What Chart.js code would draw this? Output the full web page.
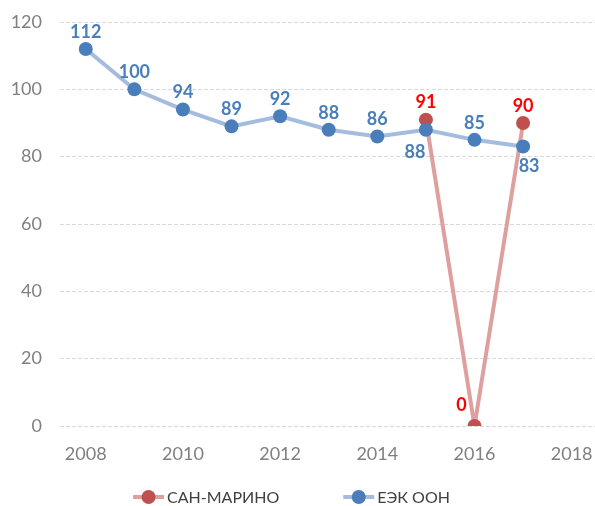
<!DOCTYPE html>
<html>
<head>
<meta charset="utf-8">
<script src="https://cdn.jsdelivr.net/npm/chart.js@4.4.0/dist/chart.umd.min.js"></script>
<style>
  body { margin: 0; background: #fff; }
</style>
</head>
<body>
<canvas id="chart" width="595" height="506"></canvas>
<script>
// values
const years = [2008, 2009, 2010, 2011, 2012, 2013, 2014, 2015, 2016, 2017];
const uneceValues = [112, 100, 94, 89, 92, 88, 86, 88, 85, 83];
const smYears = [2015, 2016, 2017];
const smValues = [91, 0, 90];
const xTicks = [2008, 2010, 2012, 2014, 2016, 2018];
const seriesNames = ['САН-МАРИНО', 'ЕЭК ООН'];

// where each label sits relative to its point
const uneceLabelPos = ['top', 'top', 'top', 'top', 'top', 'top', 'top', 'belowLeft', 'top', 'belowRight'];
const smLabelPos = ['top', 'leftTop', 'top'];

const FONT = 'Lato, "Open Sans", sans-serif';

const offsets = {
  top: [0, -17],
  belowLeft: [-11, 22],
  belowRight: [6, 20],
  leftTop: [-13, -21]
};

const valueLabels = {
  id: 'valueLabels',
  afterDatasetsDraw(chart) {
    const ctx = chart.ctx;
    ctx.save();
    ctx.font = 'bold 18px ' + FONT;
    ctx.textAlign = 'center';
    ctx.textBaseline = 'middle';
    chart.data.datasets.forEach((ds, i) => {
      const meta = chart.getDatasetMeta(i);
      meta.data.forEach((pt, j) => {
        const off = offsets[ds.labelPos[j]];
        ctx.fillStyle = ds.labelColor;
        ctx.fillText(String(ds.data[j].y), pt.x + off[0], pt.y + off[1]);
      });
    });
    ctx.restore();
  }
};

// excel style legend: short thick line with a dot on it, then the name
const bottomLegend = {
  id: 'bottomLegend',
  afterDraw(chart) {
    const ctx = chart.ctx;
    ctx.save();
    ctx.font = '16px ' + FONT;
    ctx.textBaseline = 'middle';
    const y = 497, iconW = 31, gap = 3, spacing = 64;
    const widths = chart.data.datasets.map(ds => iconW + gap + ctx.measureText(ds.label).width);
    const total = widths.reduce((a, b) => a + b, 0) + spacing * (widths.length - 1);
    let x = chart.width / 2 - 6 - total / 2;
    chart.data.datasets.forEach((ds, i) => {
      ctx.strokeStyle = ds.borderColor;
      ctx.lineWidth = 4;
      ctx.beginPath(); ctx.moveTo(x, y); ctx.lineTo(x + iconW, y); ctx.stroke();
      ctx.fillStyle = ds.pointBackgroundColor;
      ctx.beginPath(); ctx.arc(x + iconW / 2, y, 7, 0, Math.PI * 2); ctx.fill();
      ctx.fillStyle = '#404040';
      ctx.fillText(ds.label, x + iconW + gap, y + 1);
      x += widths[i] + spacing;
    });
    ctx.restore();
  }
};

const ctx = document.getElementById('chart').getContext('2d');
const myChart = new Chart(ctx, {
  type: 'line',
  data: {
    datasets: [
      {
        label: seriesNames[0],
        data: smYears.map((x, i) => ({ x: x, y: smValues[i] })),
        borderColor: 'rgb(222, 160, 158)',
        pointBackgroundColor: 'rgb(192, 80, 77)',
        pointBorderWidth: 0,
        pointRadius: 7,
        borderWidth: 4,
        order: 2,
        labelPos: smLabelPos,
        labelColor: '#ff0000'
      },
      {
        label: seriesNames[1],
        data: years.map((x, i) => ({ x: x, y: uneceValues[i] })),
        borderColor: 'rgb(164, 189, 222)',
        pointBackgroundColor: 'rgb(74, 126, 187)',
        pointBorderWidth: 0,
        pointRadius: 7,
        borderWidth: 4,
        order: 1,
        labelPos: uneceLabelPos,
        labelColor: 'rgb(74, 126, 187)'
      }
    ]
  },
  options: {
    responsive: false,
    animation: false,
    layout: { autoPadding: false, padding: { left: 10, right: 0, top: 22, bottom: 0 } },
    plugins: {
      tooltip: { enabled: false },
      legend: { display: false }
    },
    scales: {
      x: {
        type: 'linear',
        min: 2007.47,
        max: 2018.48,
        afterBuildTicks(axis) {
          axis.ticks = xTicks.map(v => ({ value: v }));
        },
        afterFit(axis) {
          // pin the plot box: 80px under the plot, no overflow padding
          axis.height = 80;
          axis.paddingLeft = 0;
          axis.paddingRight = 0;
        },
        grid: { display: false },
        border: { display: false },
        ticks: {
          color: '#808080',
          font: { family: FONT, size: 18 },
          padding: 9,
          callback: v => String(v)
        }
      },
      y: {
        min: 0,
        max: 120,
        afterFit(axis) {
          axis.width = 50;
          axis.paddingTop = 0;
          axis.paddingBottom = 0;
        },
        ticks: {
          stepSize: 20,
          color: '#808080',
          font: { family: FONT, size: 18 },
          padding: 18
        },
        grid: { color: '#d9d9d9', drawTicks: false },
        border: { display: false, dash: [4, 2] }
      }
    }
  },
  plugins: [valueLabels, bottomLegend]
});
</script>
</body>
</html>
